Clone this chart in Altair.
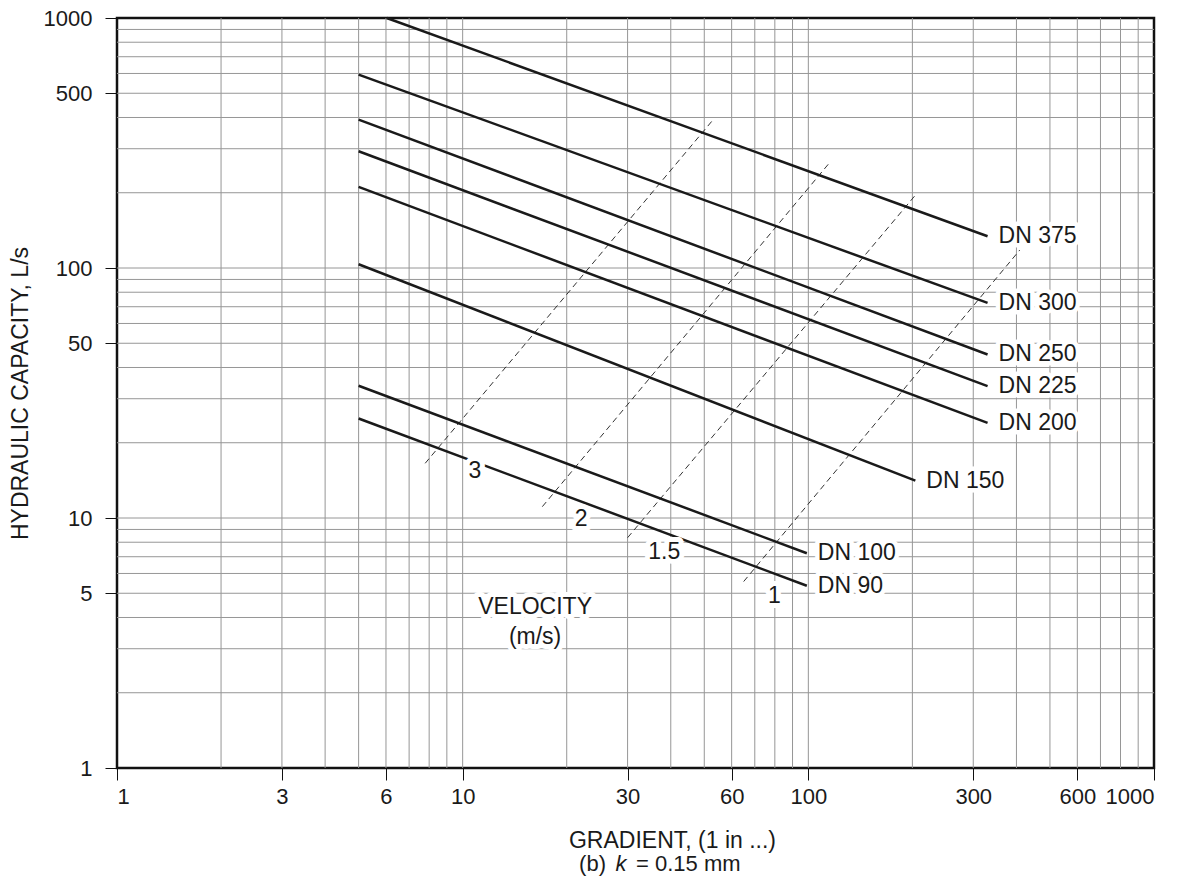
import altair as alt
import pandas as pd

FONT = "Liberation Sans"

# ---- pipe capacity lines (gradient 1 in x, capacity L/s) ----
pipe_names = ["DN 375", "DN 300", "DN 250", "DN 225", "DN 200", "DN 150", "DN 100", "DN 90"]
pipe_x0 = [6.03, 5, 5, 5, 5, 5, 5, 5]
pipe_y0 = [1000, 594, 392, 293, 211, 103.5, 33.8, 25.0]
pipe_x1 = [330, 330, 330, 330, 330, 204, 99, 99]
pipe_y1 = [134, 72.5, 45.1, 33.7, 24.0, 14.1, 7.23, 5.36]

# ---- constant velocity lines (m/s) ----
vel_names = ["3", "2", "1.5", "1"]
vel_x0 = [7.79, 17.0, 30.0, 65.0]
vel_y0 = [16.55, 11.1, 8.34, 5.57]
vel_x1 = [52.8, 115, 203, 409]
vel_y1 = [389, 263, 194, 118]

# ---- velocity label anchor points ----
vel_label_text = ["3", "2", "1.5", "1", "VELOCITY", "(m/s)"]
vel_label_x = [10.85, 22.0, 38.3, 79.7, 16.2, 16.2]
vel_label_y = [15.4, 9.9, 7.33, 4.88, 4.39, 3.35]

# ---- axes ----
x_ticks = [1, 3, 6, 10, 30, 60, 100, 300, 600, 1000]
y_ticks = [1, 5, 10, 50, 100, 500, 1000]
grid_vals = [m * 10 ** e for e in range(3) for m in range(2, 10)] + [10, 100]

pipes = pd.DataFrame(
    [{"pipe": n, "x": a, "y": b, "o": 0} for n, a, b in zip(pipe_names, pipe_x0, pipe_y0)]
    + [{"pipe": n, "x": a, "y": b, "o": 1} for n, a, b in zip(pipe_names, pipe_x1, pipe_y1)]
)
pipe_ends = pd.DataFrame({"pipe": pipe_names, "x": pipe_x1, "y": pipe_y1})
vels = pd.DataFrame(
    [{"v": n, "x": a, "y": b, "o": 0} for n, a, b in zip(vel_names, vel_x0, vel_y0)]
    + [{"v": n, "x": a, "y": b, "o": 1} for n, a, b in zip(vel_names, vel_x1, vel_y1)]
)
vel_labels = pd.DataFrame({"t": vel_label_text, "x": vel_label_x, "y": vel_label_y})
grid = pd.DataFrame({"g": grid_vals})

W, H = 1037, 750
xs = alt.Scale(type="log", domain=[1, 1000], nice=False)
ys = alt.Scale(type="log", domain=[1, 1000], nice=False)

GRID = "#969696"
INK = "#1a1a1a"

common_axis = dict(
    domain=False,
    grid=False,
    ticks=True,
    tickColor="#111111",
    tickSize=12,
    tickWidth=1,
    labelFont=FONT,
    labelFontSize=22,
    labelColor=INK,
    titleFont=FONT,
    titleFontWeight="normal",
    titleColor=INK,
    format="d",
)

x_axis = alt.Axis(
    values=x_ticks,
    title="GRADIENT, (1 in ...)",
    titleFontSize=23,
    titleX=555,
    titleY=79,
    titleAlign="center",
    titleBaseline="alphabetic",
    labelPadding=6,
    orient="bottom",
    **common_axis,
)
y_axis = alt.Axis(
    values=y_ticks,
    title="HYDRAULIC CAPACITY, L/s",
    titleFontSize=23,
    titleX=-90,
    titleY=375,
    titleAngle=-90,
    titleAlign="center",
    titleBaseline="alphabetic",
    labelPadding=13,
    orient="left",
    **common_axis,
)

base_x = alt.X("x:Q", scale=xs, axis=x_axis)
base_y = alt.Y("y:Q", scale=ys, axis=y_axis)

vgrid = alt.Chart(grid).mark_rule(color=GRID, strokeWidth=1).encode(
    x=alt.X("g:Q", scale=xs, axis=x_axis)
)
hgrid = alt.Chart(grid).mark_rule(color=GRID, strokeWidth=1).encode(
    y=alt.Y("g:Q", scale=ys, axis=y_axis)
)

vel_lines = alt.Chart(vels).mark_line(color="#333333", strokeWidth=1, strokeDash=[6, 4]).encode(
    x=base_x, y=base_y, detail="v:N", order="o:Q",
)

pipe_lines = alt.Chart(pipes).mark_line(color=INK, strokeWidth=2.5).encode(
    x=base_x, y=base_y, detail="pipe:N", order="o:Q",
)

dn_halo = alt.Chart(pipe_ends).mark_text(
    align="left", baseline="middle", dx=11, font=FONT, fontSize=23,
    stroke="white", strokeWidth=9, fill="white", strokeJoin="round",
).encode(x=base_x, y=base_y, text="pipe:N")
dn_text = alt.Chart(pipe_ends).mark_text(
    align="left", baseline="middle", dx=11, font=FONT, fontSize=23, color=INK,
).encode(x=base_x, y=base_y, text="pipe:N")

v_halo = alt.Chart(vel_labels).mark_text(
    align="center", baseline="middle", font=FONT, fontSize=23,
    stroke="white", strokeWidth=10, fill="white", strokeJoin="round",
).encode(x=base_x, y=base_y, text="t:N")
v_text = alt.Chart(vel_labels).mark_text(
    align="center", baseline="middle", font=FONT, fontSize=23, color=INK,
).encode(x=base_x, y=base_y, text="t:N")

# second line of x-axis title: "(b) k = 0.15 mm" with italic k
sub_text = ["(b)", "k", "= 0.15 mm"]
sub_pos = [606, 621, 636]
sub_align = ["right", "center", "left"]
sub_style = ["normal", "italic", "normal"]
sub_layers = []
for t, p, a, s in zip(sub_text, sub_pos, sub_align, sub_style):
    sub_layers.append(
        alt.Chart(pd.DataFrame({"t": [t]})).mark_text(
            align=a, baseline="alphabetic", font=FONT, fontSize=22,
            fontStyle=s, color=INK,
        ).encode(x=alt.value(p - 117), y=alt.value(853), text="t:N")
    )

chart = (
    alt.layer(vgrid, hgrid, vel_lines, pipe_lines, dn_halo, dn_text, v_halo, v_text, *sub_layers)
    .properties(
        width=W,
        height=H,
        autosize=alt.AutoSizeParams(type="none"),
        padding={"left": 117, "top": 18, "right": 36, "bottom": 116},
    )
    .configure_view(stroke="#111111", strokeWidth=2.5)
)

chart.save("out.html", embed_options={"renderer": "svg", "actions": False})
